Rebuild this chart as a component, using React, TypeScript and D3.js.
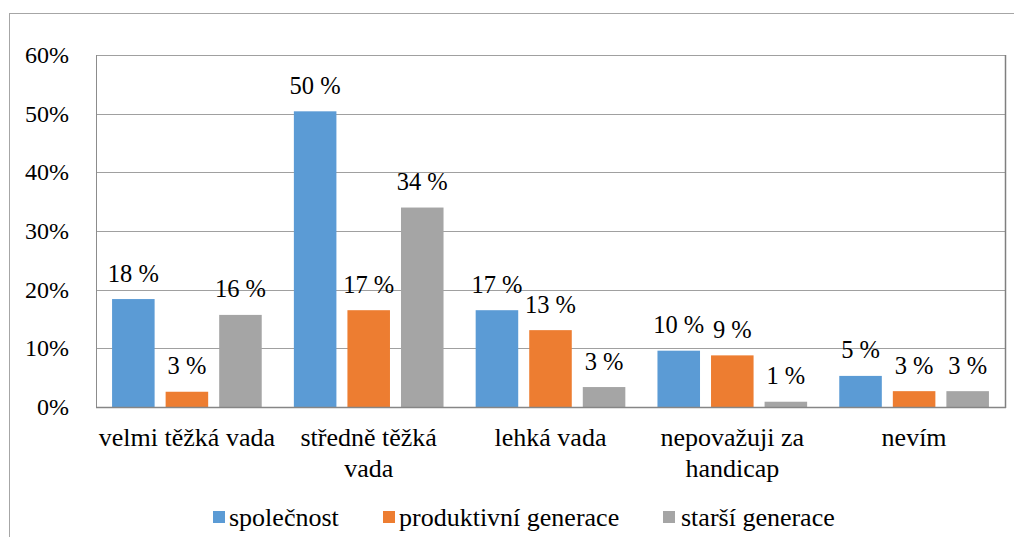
import React from "react";
import * as d3 from "d3";

const categories = [
  ["velmi těžká vada"],
  ["středně těžká", "vada"],
  ["lehká vada"],
  ["nepovažuji za", "handicap"],
  ["nevím"],
];
const categoryKeys = ["c1", "c2", "c3", "c4", "c5"];
const seriesNames = ["společnost", "produktivní generace", "starší generace"];
const spolecnost = [18.4, 50.4, 16.5, 9.6, 5.3];
const produktivni = [2.6, 16.5, 13.1, 8.8, 2.7];
const starsi = [15.7, 34.0, 3.4, 0.9, 2.7];
const seriesValues = [spolecnost, produktivni, starsi];
const colors = ["#5B9BD5", "#ED7D31", "#A5A5A5"];
const yTicks = [0, 10, 20, 30, 40, 50, 60];

const W = 1022;
const H = 545;
const plot = { left: 96, right: 1005, top: 55, bottom: 407 };
const FAM = "Liberation Serif";

export default function App() {
  const x = d3
    .scaleBand<string>()
    .domain(categoryKeys)
    .range([plot.left, plot.right])
    .padding(0);
  const xs = d3
    .scaleBand<string>()
    .domain(seriesNames)
    .range([0, x.bandwidth()])
    .paddingInner(0.2056)
    .paddingOuter(0.3);
  const y = d3.scaleLinear().domain([0, 60]).range([plot.bottom, plot.top]);

  const legendItems = [
    { sx: 213, tx: 229 },
    { sx: 383, tx: 399 },
    { sx: 663, tx: 681 },
  ];

  return (
    <svg width={W} height={H} style={{ display: "block", margin: "-8px" }}>
      <style>{`.chart-text { font-family: "Liberation Serif", "Times New Roman", serif !important; }`}</style>
      <rect x={9.5} y={13.5} width={1030} height={560} fill="#fff" stroke="#A6A6A6" strokeWidth={1} />
      {yTicks.map((t) => (
        <line
          key={"g" + t}
          x1={plot.left}
          x2={plot.right}
          y1={Math.round(y(t)) + 0.5}
          y2={Math.round(y(t)) + 0.5}
          stroke="#A0A0A0"
          strokeWidth={1}
        />
      ))}
      <line x1={plot.left + 0.5} x2={plot.left + 0.5} y1={plot.top} y2={plot.bottom} stroke="#8C8C8C" strokeWidth={1} />
      <line x1={plot.right + 0.5} x2={plot.right + 0.5} y1={plot.top} y2={plot.bottom + 1} stroke="#7F7F7F" strokeWidth={1.5} />
      {yTicks.map((t) => (
        <text
          key={"t" + t}
          className="chart-text"
          x={69}
          y={y(t)}
          dy="0.34em"
          textAnchor="end"
          fontSize={24}
          fontFamily={FAM}
          fill="#000"
        >
          {t + "%"}
        </text>
      ))}
      {categoryKeys.map((c, ci) =>
        seriesNames.map((s, si) => {
          const v = seriesValues[si][ci];
          const bx = (x(c) as number) + (xs(s) as number);
          return (
            <g key={c + s}>
              <rect
                x={bx}
                y={y(v)}
                width={xs.bandwidth()}
                height={plot.bottom - y(v)}
                fill={colors[si]}
              />
              <text
                className="chart-text"
                x={bx + xs.bandwidth() / 2}
                y={y(v) - 17.5}
                textAnchor="middle"
                fontSize={24.5}
                fontFamily={FAM}
                fill="#000"
              >
                {Math.round(v) + " %"}
              </text>
            </g>
          );
        })
      )}
      <line x1={plot.left} x2={plot.right + 1} y1={plot.bottom + 0.5} y2={plot.bottom + 0.5} stroke="#868686" strokeWidth={1.5} />
      {categoryKeys.map((c, ci) => (
        <text
          key={"cl" + c}
          className="chart-text"
          x={(x(c) as number) + x.bandwidth() / 2}
          y={446}
          textAnchor="middle"
          fontSize={26}
          fontFamily={FAM}
          fill="#000"
        >
          {categories[ci].map((line, li) => (
            <tspan key={li} x={(x(c) as number) + x.bandwidth() / 2} dy={li === 0 ? 0 : 31}>
              {line}
            </tspan>
          ))}
        </text>
      ))}
      {seriesNames.map((s, si) => (
        <g key={"lg" + s}>
          <rect x={legendItems[si].sx} y={511} width={12} height={12} fill={colors[si]} />
          <text className="chart-text" x={legendItems[si].tx} y={526} fontSize={26} fontFamily={FAM} fill="#000">
            {s}
          </text>
        </g>
      ))}
    </svg>
  );
}
